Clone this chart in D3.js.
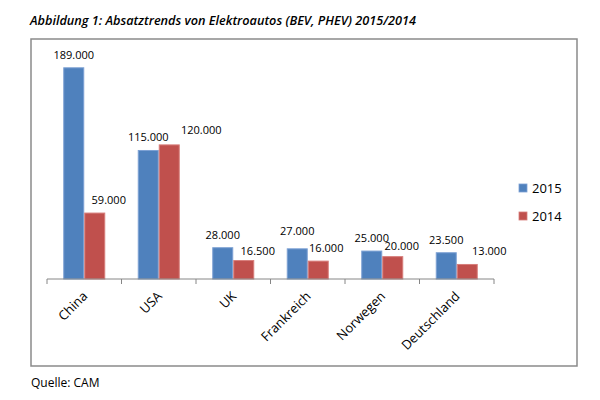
<!DOCTYPE html>
<html>
<head>
<meta charset="utf-8">
<script src="https://cdn.jsdelivr.net/npm/d3@7"></script>
<style>
  html, body { margin: 0; padding: 0; background: #fff; }
  svg { display: block; }
  text { font-family: "Open Sans", "Noto Sans", sans-serif; fill: #000; }
</style>
</head>
<body>
<svg id="chart" width="600" height="400"></svg>
<script>
// ---- data ----
const categories = ["China", "USA", "UK", "Frankreich", "Norwegen", "Deutschland"];
const seriesNames = ["2015", "2014"];
const values2015 = [189000, 115000, 28000, 27000, 25000, 23500];
const values2014 = [59000, 120000, 16500, 16000, 20000, 13000];
const valueLabels2015 = ["189.000", "115.000", "28.000", "27.000", "25.000", "23.500"];
const valueLabels2014 = ["59.000", "120.000", "16.500", "16.000", "20.000", "13.000"];
const titleText = "Abbildung 1: Absatztrends von Elektroautos (BEV, PHEV) 2015/2014";
const sourceText = "Quelle: CAM";

// ---- layout (not data) ----
const colors = { "2015": "#4F81BD", "2014": "#C0504D" };
const strokes = { "2015": "#7DA1D4", "2014": "#D77D7A" };
// label nudges to mirror the hand-placed data labels of the original
const labelNudgeX2014 = [14, 32, 14, 8, 9, 22];
const labelNudgeY2015 = [0, 0, 0, -5, 0, 0];
const labelNudgeY2014 = [0, -2, 3, 0, 2, 0];

const svg = d3.select("#chart");

// Title
svg.append("text")
  .attr("x", 30).attr("y", 25)
  .attr("font-size", 13).attr("font-style", "italic").attr("font-weight", 600)
  .attr("textLength", 386).attr("lengthAdjust", "spacingAndGlyphs")
  .text(titleText);

// Chart frame
svg.append("rect")
  .attr("x", 31).attr("y", 39).attr("width", 546).attr("height", 327)
  .attr("fill", "#fff").attr("stroke", "#8a8a8a").attr("stroke-width", 1.5);

// Source
svg.append("text")
  .attr("x", 31).attr("y", 387)
  .attr("font-size", 12)
  .text(sourceText);

// Scales
const x0 = d3.scaleBand().domain(categories).range([47, 494]).padding(0);
const groupW = 42;
const x1 = d3.scaleBand().domain(seriesNames).range([0, groupW]).padding(0);
const y = d3.scaleLinear().domain([0, 200000]).range([279, 55.5]);

const rows = categories.map((c, i) => ({
  cat: c, i,
  vals: [
    { s: "2015", v: values2015[i], lab: valueLabels2015[i] },
    { s: "2014", v: values2014[i], lab: valueLabels2014[i] }
  ]
}));

const groups = svg.append("g").selectAll("g")
  .data(rows).join("g")
  .attr("transform", d => `translate(${x0(d.cat) + (x0.bandwidth() - groupW) / 2},0)`);

groups.selectAll("rect")
  .data(d => d.vals).join("rect")
  .attr("x", d => x1(d.s) + 0.5)
  .attr("y", d => y(d.v))
  .attr("width", x1.bandwidth() - 1)
  .attr("height", d => y(0) - y(d.v))
  .attr("fill", d => colors[d.s])
  .attr("stroke", d => strokes[d.s])
  .attr("stroke-width", 1);

// Data labels
groups.each(function (d) {
  const g = d3.select(this);
  d.vals.forEach(v => {
    const cx = x1(v.s) + x1.bandwidth() / 2;
    const dx = v.s === "2014" ? labelNudgeX2014[d.i] : 0;
    const dy = v.s === "2014" ? labelNudgeY2014[d.i] : labelNudgeY2015[d.i];
    g.append("text")
      .attr("x", cx + dx)
      .attr("y", y(v.v) - 9 + dy)
      .attr("text-anchor", "middle")
      .attr("font-size", 11)
      .attr("fill", "#000")
      .text(v.lab);
  });
});

// X axis
const axis = svg.append("g").attr("transform", "translate(0,279)");
axis.append("line")
  .attr("x1", 47).attr("x2", 494).attr("y1", 0).attr("y2", 0)
  .attr("stroke", "#868686").attr("stroke-width", 1);
const tickPos = categories.map(c => x0(c)).concat([x0.range()[1]]);
axis.selectAll("line.tick").data(tickPos).join("line")
  .attr("class", "tick")
  .attr("x1", d => d).attr("x2", d => d)
  .attr("y1", 0).attr("y2", 5)
  .attr("stroke", "#868686").attr("stroke-width", 1);

svg.append("g").selectAll("text")
  .data(categories).join("text")
  .attr("transform", c => `translate(${x0(c) + x0.bandwidth() / 2 + 4},297) rotate(-45)`)
  .attr("text-anchor", "end")
  .attr("font-size", 13)
  .text(c => c);

// Legend
const legend = svg.append("g");
seriesNames.forEach((s, i) => {
  const ly = 188 + i * 28;
  legend.append("rect")
    .attr("x", 519).attr("y", ly - 4).attr("width", 8).attr("height", 8)
    .attr("fill", colors[s]).attr("stroke", strokes[s]).attr("stroke-width", 0.8);
  legend.append("text")
    .attr("x", 532).attr("y", ly).attr("dy", "0.36em")
    .attr("font-size", 13)
    .text(s);
});
</script>
</body>
</html>
